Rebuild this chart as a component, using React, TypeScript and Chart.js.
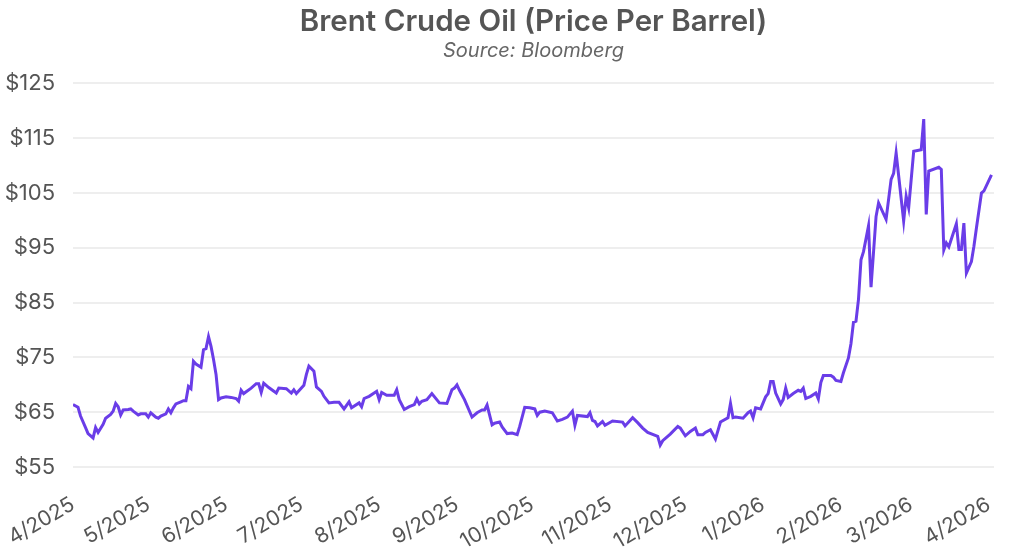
import React, { useEffect, useRef } from "react";
import { Chart, registerables } from "chart.js";

Chart.register(...registerables);

// Days since 1 April 2025 (trading days)
const tradingDays = [
  0, 2, 3, 5, 6, 8, 9, 10, 12, 13, 15, 16, 17, 18, 19, 20, 22, 23, 24, 26, 27, 29, 30, 31, 33, 34, 35, 37, 38, 39,
  40, 41, 43, 44, 45, 46, 47, 48, 49, 51, 52, 53, 54, 55, 56, 57, 58, 59, 61, 63, 65, 66, 67, 68, 71, 73, 74, 75, 76, 78,
  81, 82, 85, 87, 88, 89, 92, 93, 94, 96, 97, 99, 100, 102, 104, 106, 108, 110, 111, 114, 115, 116, 118, 120, 121, 122, 123, 125, 128, 129,
  130, 132, 134, 136, 137, 138, 139, 141, 143, 146, 149, 151, 152, 153, 154, 156, 159, 161, 163, 164, 165, 167, 168, 170, 171, 173, 175, 177, 178, 180,
  182, 184, 185, 186, 188, 191, 193, 195, 197, 199, 200, 201, 205, 206, 207, 208, 209, 211, 212, 215, 219, 220, 223, 225, 227, 229, 233, 234, 235, 238,
  241, 242, 244, 246, 248, 249, 251, 252, 254, 256, 258, 261, 262, 263, 264, 267, 269, 270, 271, 272, 274, 276, 277, 278, 279, 280, 282, 283, 284, 285,
  287, 289, 290, 291, 292, 294, 296, 297, 298, 299, 302, 303, 304, 306, 307, 309, 310, 311, 312, 313, 314, 315, 317, 318, 320, 321, 324, 326, 327, 328,
  331, 332, 333, 335, 338, 339, 340, 341, 345, 346, 347, 348, 349, 352, 353, 354, 355, 356, 358, 359, 360, 362, 363, 366,
];

const prices = [
  66.4, 65.9, 64.3, 62.2, 61.1, 60.3, 62.2, 61.3, 62.8, 63.9, 64.6, 65.2, 66.6, 66.0, 64.5, 65.4, 65.5, 65.6, 65.2, 64.5, 64.7, 64.7, 64.1, 64.9, 64.1, 63.9, 64.3, 64.7, 65.6, 64.9,
  65.8, 66.5, 66.9, 67.1, 67.1, 69.7, 69.3, 74.3, 73.8, 73.2, 76.4, 76.6, 78.8, 77.0, 74.6, 71.9, 67.3, 67.6, 67.8, 67.7, 67.5, 67.0, 69.0, 68.4, 69.4, 70.2, 70.2, 68.6, 70.3, 69.5,
  68.5, 69.4, 69.3, 68.5, 69.1, 68.4, 69.9, 71.9, 73.4, 72.5, 69.6, 68.8, 67.9, 66.7, 66.8, 66.8, 65.6, 66.9, 65.8, 66.7, 66.0, 67.5, 67.9, 68.5, 68.8, 67.3, 68.6, 68.1, 68.1, 69.1,
  67.3, 65.5, 66.0, 66.4, 67.4, 66.5, 67.0, 67.3, 68.4, 66.7, 66.6, 69.1, 69.4, 70.0, 69.0, 67.3, 64.1, 64.9, 65.4, 65.4, 66.3, 62.7, 63.0, 63.2, 62.3, 61.1, 61.2, 60.9, 62.4, 65.9,
  65.8, 65.6, 64.4, 65.0, 65.2, 64.9, 63.4, 63.7, 64.1, 65.2, 62.6, 64.4, 64.2, 64.9, 63.5, 63.3, 62.5, 63.3, 62.6, 63.4, 63.2, 62.5, 64.0, 63.1, 62.1, 61.3, 60.6, 59.0, 59.8, 61.0,
  62.4, 62.1, 60.7, 61.5, 62.1, 60.9, 60.9, 61.3, 61.8, 60.1, 63.2, 64.0, 66.6, 64.0, 64.1, 63.9, 64.9, 65.2, 64.0, 65.8, 65.6, 67.8, 68.4, 70.6, 70.6, 68.5, 66.5, 67.3, 69.4, 67.7,
  68.4, 69.0, 68.8, 69.4, 67.5, 67.9, 68.5, 67.4, 70.4, 71.7, 71.7, 71.4, 70.8, 70.6, 72.2, 74.9, 77.5, 81.4, 81.6, 85.6, 92.8, 94.3, 99.0, 87.8, 100.7, 103.2, 100.2, 107.5, 108.6, 112.3,
  99.9, 104.4, 102.3, 112.6, 112.9, 118.5, 101.1, 109.0, 109.7, 109.3, 94.6, 95.9, 95.2, 99.4, 94.7, 94.7, 99.5, 90.4, 92.5, 95.3, 98.6, 105.0, 105.4, 108.3,
];

const monthTickDays = [0, 30, 61, 91, 122, 153, 183, 214, 244, 275, 306, 334, 365];
const monthTickLabels = [
  "4/2025", "5/2025", "6/2025", "7/2025", "8/2025", "9/2025", "10/2025",
  "11/2025", "12/2025", "1/2026", "2/2026", "3/2026", "4/2026",
];

const yMin = 55;
const yMax = 125;
const yStep = 10;
const lastDay = 367;

const FONT = "Inter, Lato, sans-serif";

export default function App() {
  const ref = useRef<HTMLCanvasElement>(null);

  useEffect(() => {
    document.body.style.margin = "0";
    const canvas = ref.current;
    if (!canvas) return;
    const chart = new Chart(canvas, {
      type: "line",
      data: {
        datasets: [
          {
            data: tradingDays.map((d, i) => ({ x: d, y: prices[i] })),
            borderColor: "#6a3de8",
            borderWidth: 3,
            pointRadius: 0,
            tension: 0,
            fill: false,
          },
        ],
      },
      options: {
        animation: false,
        responsive: false,
        maintainAspectRatio: false,
        layout: { padding: { left: 0, right: 30, top: 0, bottom: 0 } },
        plugins: {
          legend: { display: false },
          tooltip: { enabled: false },
          title: {
            display: true,
            text: "Brent Crude Oil (Price Per Barrel)",
            fullSize: false,
            color: "#555555",
            font: { family: FONT, size: 29.5, weight: "600" },
            padding: { top: 4, bottom: 0 },
          },
          subtitle: {
            display: true,
            text: "Source: Bloomberg",
            fullSize: false,
            color: "#666666",
            font: { family: FONT, size: 20, style: "italic" },
            padding: { top: 0, bottom: 20 },
          },
        },
        scales: {
          x: {
            type: "linear",
            min: 0,
            max: lastDay,
            afterBuildTicks: (scale: any) => {
              scale.ticks = monthTickDays.map((v) => ({ value: v }));
            },
            afterFit: (scale: any) => {
              scale.height = 88;
              scale.paddingLeft = 0;
              scale.paddingRight = 0;
            },
            ticks: {
              autoSkip: false,
              minRotation: 30,
              maxRotation: 30,
              padding: 17,
              color: "#555555",
              font: { family: FONT, size: 21 },
              callback: (_v: any, i: number) => monthTickLabels[i],
            },
            grid: { display: false },
            border: { display: false },
          },
          y: {
            min: yMin,
            max: yMax,
            afterFit: (scale: any) => {
              scale.width = 73;
            },
            ticks: {
              stepSize: yStep,
              padding: 18,
              color: "#555555",
              font: { family: FONT, size: 22 },
              callback: (v: any) => "$" + v,
            },
            grid: { color: "#eeeeee", lineWidth: 2, drawTicks: false },
            border: { display: false },
          },
        },
      },
    });
    return () => chart.destroy();
  }, []);

  return <canvas ref={ref} width={1024} height={555} style={{ display: "block" }} />;
}
